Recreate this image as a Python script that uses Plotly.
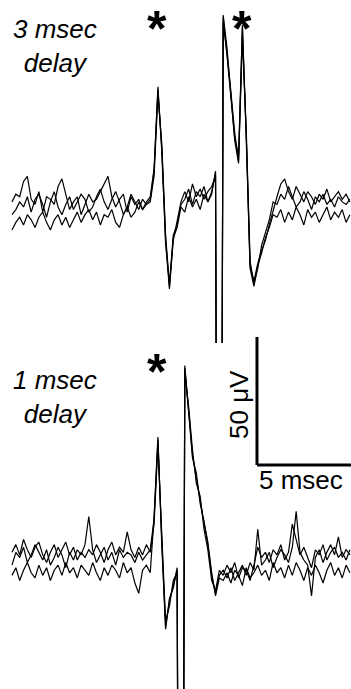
import numpy as np
import plotly.graph_objects as go

# sampling grid (msec)
DT = 0.2
N = 89
time_ms = np.arange(N) * DT

# ---- 3 msec delay panel (μV), three overlaid sweeps ----
top_sweep_a = [2, 5, 4, 10, 12, 3, 1, 6, -2, 4, 3, 1, 8, 11, 5, -1, 2, 4, -3, 1, 5, 2, 3, 6, 9, 12, 4, 0, 3, 5, -2, 4, 1, 3, -1, 2, 4,
               15, 46, 23, -13, -30, -11, -7, 1,
               3, 7, 1, 6, 4, 8, 2, 5,
               14, -400, 74, 59, 43, 27, 20, 70, 28, -23, -29, -22, -17, -13, -7, -1,
               4, 9, 11, 6, 3, 8, 5, 2, 6, 4, 1, 5, 3, 7, 2, 4, 6, 3, 5, 2]
top_sweep_b = [-3, -1, 2, 0, 4, -2, 3, 5, 1, -4, 2, 6, 0, -3, 1, 4, -1, 2, 5, 3, -2, 0, 4, 7, 2, -1, 3, 6, 2, -3, 0, 5, 2, -1, 3, 1, 2,
               12, 44, 25, -11, -31, -13, -5, 2,
               6, 2, 9, 4, 7, 3, 6, 8,
               12, -400, 72, 60, 45, 29, 18, 66, 30, -21, -30, -24, -15, -10, -5, 2,
               1, 5, 3, 8, 4, 0, 2, 6, 3, -1, 4, 2, 5, 1, 3, 0, 4, 2, 1, 3]
top_sweep_c = [-9, -6, -4, -7, -3, -5, -8, -4, -2, -6, -9, -5, -3, -7, -4, -8, -5, -2, -6, -3, -1, -5, -2, -7, -3, -4, -1, -6, -8, -3, 0, -4, -2, 2, -1, 1, 3,
               14, 47, 22, -14, -32, -12, -8, 0,
               -2, 4, 0, 3, -1, 5, 2, 6,
               13, -400, 75, 62, 44, 26, 17, 71, 27, -24, -31, -23, -18, -12, -8, -3,
               -4, -1, -6, -2, -5, 0, -3, -7, -1, -4, -2, -6, -3, 0, -5, -2, -4, -1, -6, -3]

# ---- 1 msec delay panel (μV) ----
bot_sweep_a = [-2, 3, 1, 5, -1, 2, 6, 3, 0, 4, -2, 1, 5, 2, -3, 3, 0, 4, 2, 6, 17, 4, -1, 2, 5, 0, 3, -2, 4, 1, 3, 2, -1, 3, 0, 2, 4,
               16, 47, 8, -26, -16, -10,
               -4, -400, 75,
               58, 41, 32, 23, 14, 6, -6, -13, -6,
               -4, -7, -3, -8, -5, -2, -6, -1, -4, 12, -2, 0, 3, -3, 1, 4, 2, -1, 5, 19, 3, 0, -2, -14, 1, 4, -1, 3, 6, 2, 9, 1, 4, 2]
bot_sweep_b = [3, 6, 2, 8, 4, 1, 5, 7, 2, -1, 3, 6, 1, 4, 7, 2, 5, 0, 3, 1, 4, 2, 6, 3, -1, 4, 7, 2, 5, 3, 11, 4, 1, 5, 2, 6, 3,
               14, 45, 10, -24, -18, -8,
               -5, -400, 73,
               60, 43, 30, 25, 12, 4, -8, -12, -4,
               -6, -2, -5, -1, -7, -3, -4, -8, -2, 5, 1, 3, -1, 4, 2, 6, 0, 3, 14, 8, 2, 5, 1, -3, 4, 2, 6, 0, 3, 5, 1, 3, 0, 4]
bot_sweep_c = [-6, -3, -8, -4, -1, -5, -7, -2, -6, -3, -8, -4, -2, -6, -1, -5, -3, -7, -2, -4, -6, -1, -5, -8, -3, -6, -2, -4, -7, -1, -5, -3, -9, -13, -4, -2, -5,
               17, 48, 6, -27, -15, -11,
               -3, -400, 76,
               57, 40, 34, 22, 15, 7, -5, -14, -7,
               -8, -5, -9, -4, -6, -10, -3, -7, -5, -2, -6, -4, -8, -1, -5, -3, -7, -2, -6, -1, -4, -8, -3, -6, -2, -5, -9, -4, -1, -6, -3, -7, -2, -5]

# scale bar (data units)
SCALE_T_MS = 5
SCALE_V_UV = 50
SCALE_T0 = 12.76
SCALE_V0 = 37.1

panel_labels = ["3 msec<br>delay", "1 msec<br>delay"]
scale_labels = ["5 msec", "50 μV"]

W, H = 351, 689
PX_PER_MS = 19.2
PX_PER_UV = 2.56


def xp(px):
    return px / W


def yp(py):
    return 1 - py / H


fig = go.Figure()
line = dict(color="black", width=1.2)
for s in (top_sweep_a, top_sweep_b, top_sweep_c):
    fig.add_trace(go.Scatter(x=time_ms, y=s, mode="lines", line=line,
                             xaxis="x", yaxis="y2", hoverinfo="skip", showlegend=False))
for s in (bot_sweep_a, bot_sweep_b, bot_sweep_c):
    fig.add_trace(go.Scatter(x=time_ms, y=s, mode="lines", line=line,
                             xaxis="x", yaxis="y", hoverinfo="skip", showlegend=False))

# axis ranges
x0 = -12 / PX_PER_MS
x1 = (W - 12) / PX_PER_MS
bot_base_px = 560
top_base_px = 207
top_clip_px = 343
top_dom0 = 1 - top_clip_px / H

noax = dict(visible=False, showgrid=False, zeroline=False, fixedrange=True)
fig.update_layout(
    width=W, height=H,
    margin=dict(l=0, r=0, t=0, b=0),
    paper_bgcolor="white", plot_bgcolor="white",
    xaxis=dict(range=[x0, x1], domain=[0, 1], **noax),
    yaxis=dict(range=[(bot_base_px - H) / PX_PER_UV, bot_base_px / PX_PER_UV], domain=[0, 1], anchor="x", **noax),
    yaxis2=dict(range=[(top_base_px - top_clip_px) / PX_PER_UV, top_base_px / PX_PER_UV],
                domain=[top_dom0, 1], anchor="x", **noax),
    font=dict(family="Liberation Sans, Arial, sans-serif", color="black"),
)

# scale bar
fig.add_shape(type="line", xref="x", yref="y",
              x0=SCALE_T0, x1=SCALE_T0, y0=SCALE_V0, y1=SCALE_V0 + SCALE_V_UV,
              line=dict(color="black", width=3))
fig.add_shape(type="line", xref="x", yref="y",
              x0=SCALE_T0, x1=SCALE_T0 + SCALE_T_MS, y0=SCALE_V0, y1=SCALE_V0,
              line=dict(color="black", width=3))

lab_font = dict(family="Liberation Sans, Arial, sans-serif", size=26, color="black")
ann = []
# panel labels
for label, cy in zip(panel_labels, [46, 397]):
    ann.append(dict(x=xp(55), y=yp(cy), xref="paper", yref="paper", text="<i>" + label + "</i>",
                    showarrow=False, xanchor="center", yanchor="middle", font=lab_font, align="center"))
# asterisks: text box top-anchored so it stays within the page
for (ax_, ay_) in [(157, 0.5), (242, 0.5), (157, 343)]:
    ann.append(dict(x=xp(ax_), y=yp(ay_), xref="paper", yref="paper", text="<b>*</b>",
                    showarrow=False, xanchor="center", yanchor="top", borderpad=0,
                    font=dict(family="Liberation Sans, Arial, sans-serif", size=50, color="black")))
# scale bar labels
ann.append(dict(x=xp(301), y=yp(480), xref="paper", yref="paper", text=scale_labels[0],
                showarrow=False, xanchor="center", yanchor="middle", font=lab_font))
ann.append(dict(x=xp(239), y=yp(404), xref="paper", yref="paper", text=scale_labels[1], textangle=-90,
                showarrow=False, xanchor="center", yanchor="middle", font=lab_font))
fig.update_layout(annotations=ann)

fig.write_html("out.html")
